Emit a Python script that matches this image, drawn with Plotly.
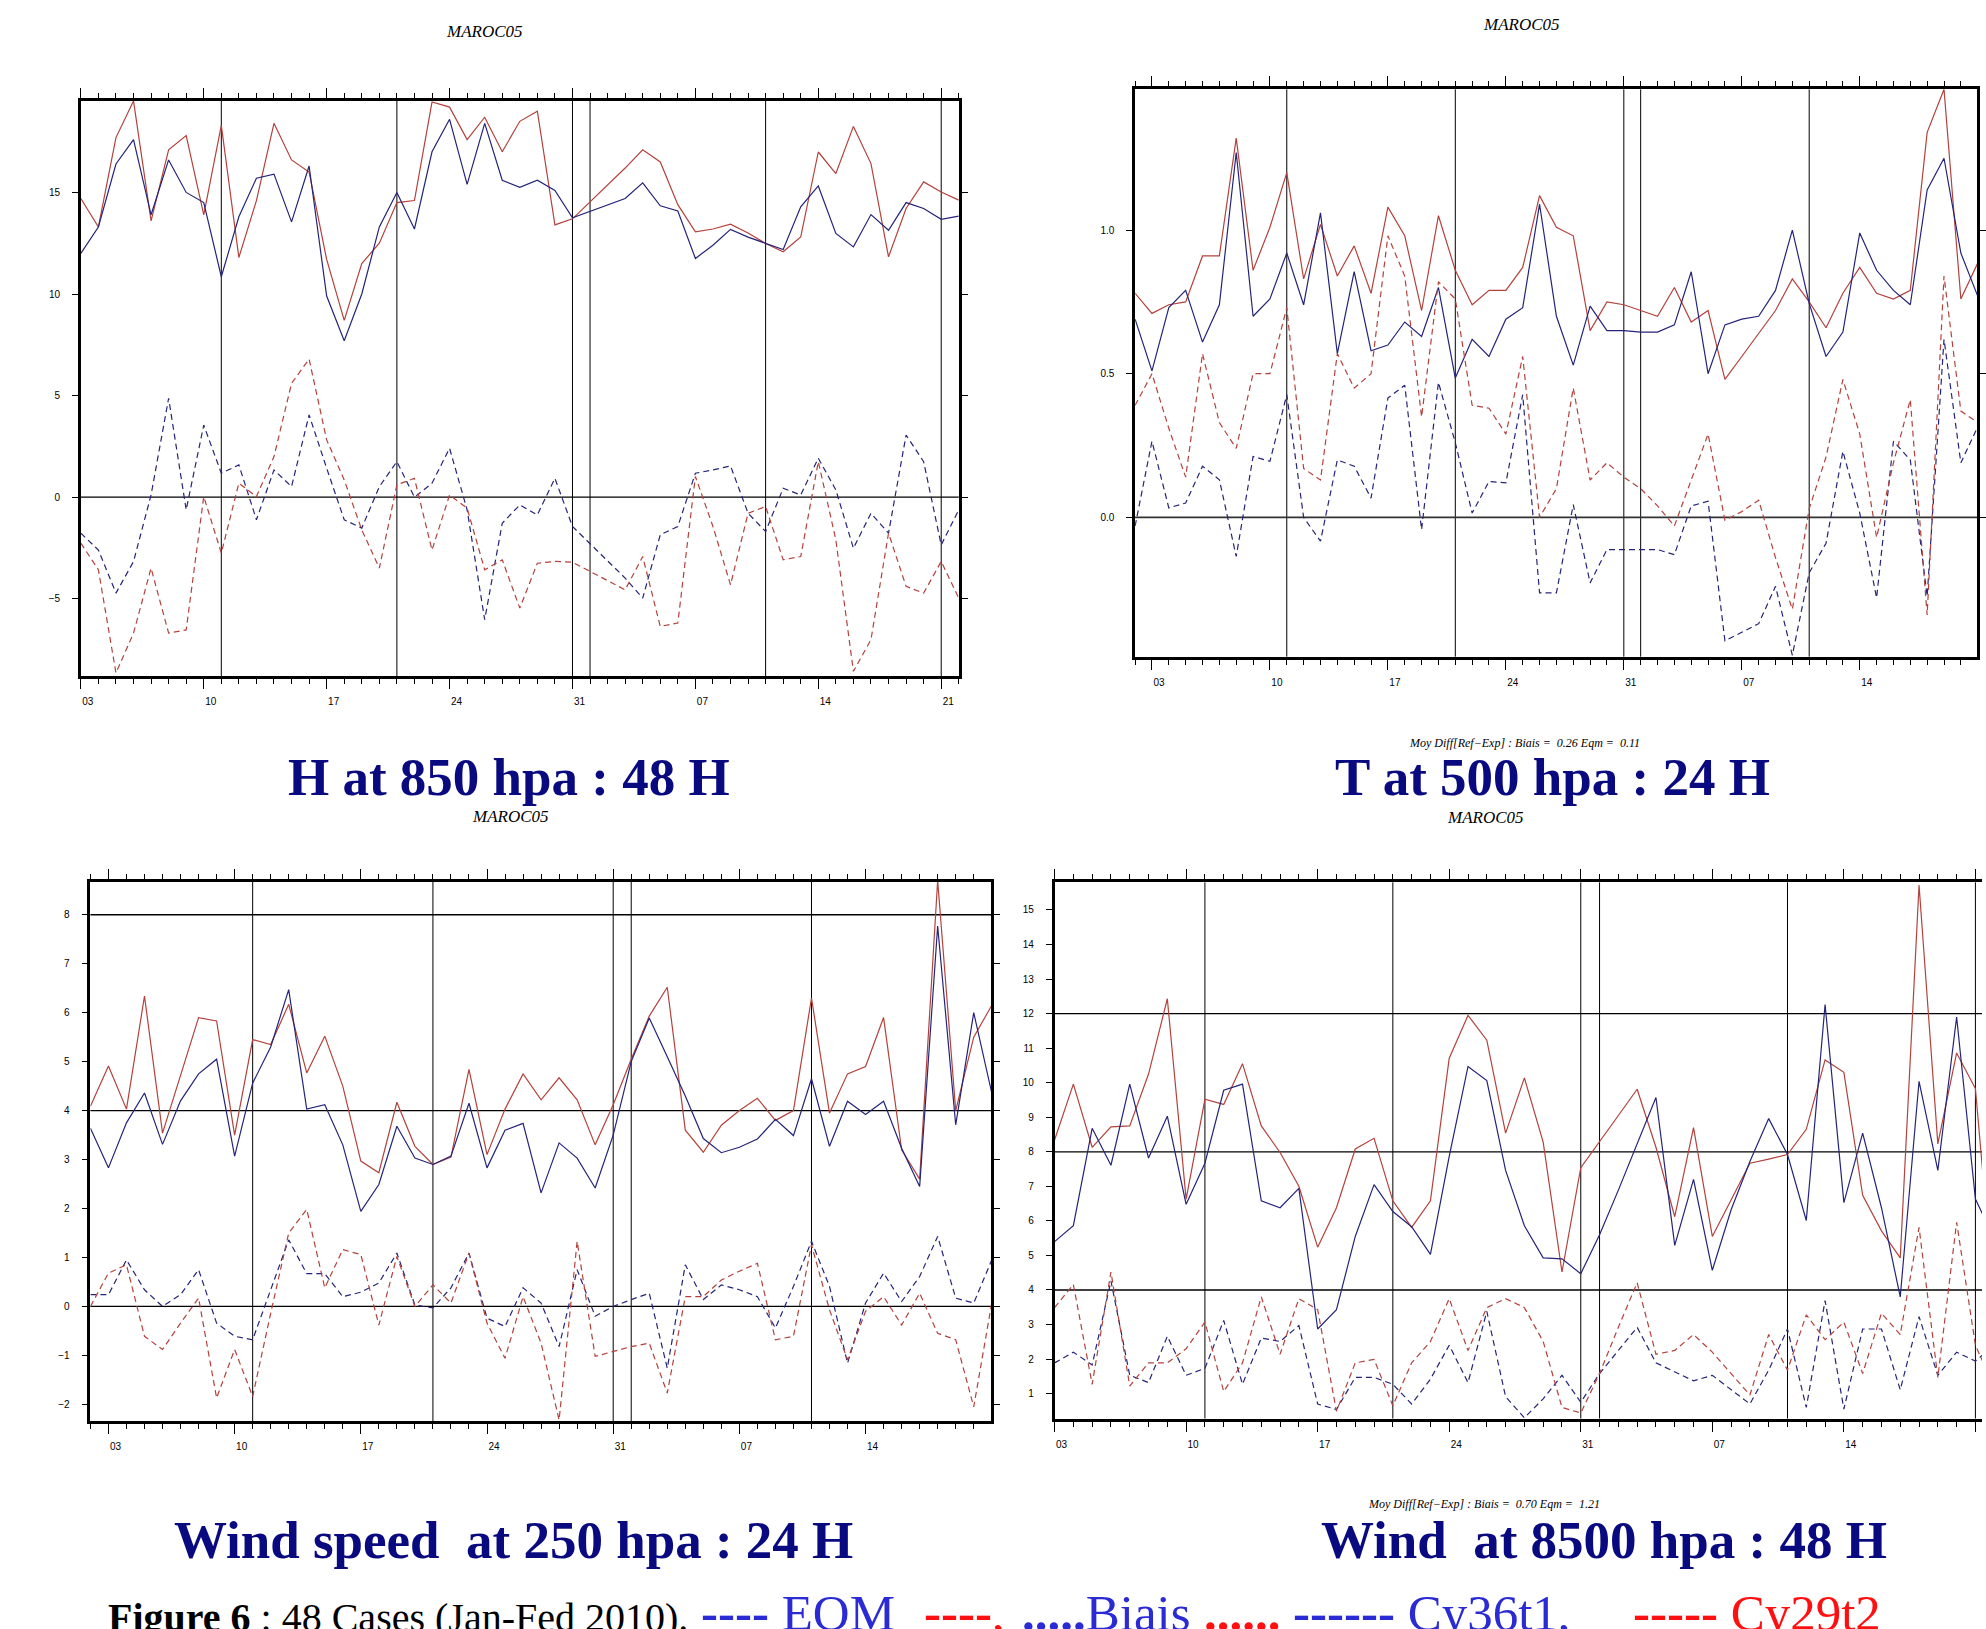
import plotly.graph_objects as go
import pandas as pd

RED = "#b3423c"
BLUE = "#24247a"

# ---------------- Panel 1 : H at 850 hPa, 48 H ----------------
p1_dates = list(pd.date_range("2010-01-03", "2010-01-31")) + list(pd.date_range("2010-02-03", "2010-02-22"))
p1_eqm_cy29 = [14.7, 13.3, 17.7, 19.5, 13.6, 17.1, 17.8, 13.9, 18.3, 11.8, 14.6, 18.4, 16.6, 16.0, 11.7, 8.7,
               11.5, 12.5, 14.5, 14.6, 19.45, 19.2, 17.6, 18.7, 17.0, 18.5, 19.0, 13.4, 13.7,
               16.2, 17.1, 16.5, 14.4, 13.06, 13.2, 13.44, 13.0, 12.49, 12.08, 12.81, 16.99, 15.93, 18.25,
               16.42, 11.83, 14.21, 15.52, 15.02, 14.62]
p1_eqm_cy36 = [12.0, 13.3, 16.4, 17.6, 13.9, 16.6, 15.0, 14.5, 10.85, 13.8, 15.7, 15.9, 13.55, 16.3, 9.9, 7.7,
               10.0, 13.3, 15.0, 13.2, 17.0, 18.6, 15.4, 18.4, 15.6, 15.25, 15.6, 15.1, 13.75,
               14.7, 15.47, 14.34, 14.09, 11.75, 12.4, 13.18, 12.8, 12.49, 12.19, 14.29, 15.32, 12.98, 12.32,
               13.91, 13.14, 14.5, 14.21, 13.68, 13.83]
p1_bias_cy36 = [-1.77, -2.6, -4.72, -3.17, 0.11, 4.87, -0.62, 3.55, 1.18, 1.59, -1.11, 1.34, 0.52, 4.05, 1.43,
                -1.11, -1.52, 0.52, 1.75, 0.0, 0.69, 2.41, -0.62, -6.03, -1.28, -0.38, -0.87, 0.93, -1.44,
                -3.98, -4.97, -1.85, -1.44, 1.18, 1.34, 1.54, -0.79, -1.69, 0.44, 0.11, 1.92, 0.36, -2.51,
                -0.79, -1.77, 3.06, 1.75, -2.35, -0.62]
p1_bias_cy29 = [-2.26, -3.57, -8.65, -6.69, -3.49, -6.69, -6.53, 0.03, -2.75, 0.69, 0.03, 2.0, 5.6, 6.8, 2.82,
                0.85, -1.61, -3.49, 0.61, 0.93, -2.6, 0.11, -0.54, -3.57, -3.08, -5.46, -3.25, -3.16, -3.2,
                -4.56, -2.92, -6.36, -6.19, 1.02, -1.44, -4.31, -0.79, -0.46, -3.08, -2.92, 1.75, -2.1, -8.57,
                -7.01, -1.77, -4.39, -4.72, -3.16, -4.97]

# ---------------- Panel 2 : T at 500 hPa, 24 H ----------------
p2_dates = list(pd.date_range("2010-01-02", "2010-02-21"))
p2_eqm_cy29 = [0.78, 0.71, 0.74, 0.75, 0.91, 0.91, 1.32, 0.86, 1.01, 1.20, 0.83, 1.02, 0.84, 0.945, 0.78, 1.08,
               0.98, 0.72, 1.05, 0.86, 0.74, 0.79, 0.79, 0.87, 1.12, 1.01, 0.98, 0.65, 0.75, 0.74,
               0.72, 0.70, 0.80, 0.68, 0.72, 0.48, 0.56, 0.64, 0.72, 0.83, 0.75, 0.66, 0.78, 0.87, 0.78,
               0.76, 0.79, 1.34, 1.49, 0.76, 0.885]
p2_eqm_cy36 = [0.69, 0.51, 0.73, 0.79, 0.61, 0.74, 1.27, 0.70, 0.76, 0.92, 0.74, 1.06, 0.57, 0.855, 0.58, 0.60,
               0.68, 0.63, 0.80, 0.485, 0.62, 0.56, 0.69, 0.73, 1.09, 0.70, 0.53, 0.735, 0.65, 0.65,
               0.645, 0.645, 0.67, 0.855, 0.50, 0.67, 0.69, 0.70, 0.79, 1.0, 0.745, 0.56, 0.645, 0.99, 0.86,
               0.79, 0.74, 1.14, 1.25, 0.92, 0.77]
p2_bias_cy29 = [0.39, 0.50, 0.31, 0.14, 0.57, 0.33, 0.24, 0.50, 0.50, 0.73, 0.17, 0.13, 0.57, 0.45, 0.50, 0.98,
                0.84, 0.35, 0.82, 0.76, 0.39, 0.38, 0.29, 0.56, 0.0, 0.10, 0.45, 0.13, 0.19, 0.14,
                0.10, 0.04, -0.03, 0.13, 0.29, -0.01, 0.02, 0.06, -0.14, -0.32, 0.03, 0.21, 0.48, 0.29, -0.07,
                0.19, 0.41, -0.34, 0.84, 0.37, 0.33]
p2_bias_cy36 = [-0.03, 0.265, 0.033, 0.05, 0.178, 0.131, -0.136, 0.212, 0.195, 0.427, 0.0, -0.083, 0.2, 0.178,
                0.067, 0.415, 0.46, -0.043, 0.47, 0.26, 0.015, 0.125, 0.12, 0.427, -0.263, -0.263, 0.044,
                -0.228, -0.112, -0.112,
                -0.112, -0.112, -0.13, 0.04, 0.056, -0.43, -0.40, -0.37, -0.24, -0.48, -0.193, -0.09, 0.23,
                0.015, -0.28, 0.265, 0.2, -0.275, 0.62, 0.19, 0.315]

# ---------------- Panel 3 : Wind speed at 250 hPa, 24 H ----------------
p3_dates = list(pd.date_range("2010-01-02", "2010-02-21"))
p3_eqm_cy29 = [4.09, 4.91, 4.03, 6.34, 3.54, 4.7, 5.9, 5.83, 3.5, 5.45, 5.35, 6.17, 4.77, 5.52, 4.5, 2.97,
               2.73, 4.17, 3.27, 2.9, 3.05, 4.84, 3.1, 4.03, 4.75, 4.22, 4.67, 4.22, 3.3, 4.12, 5.05, 5.93,
               6.52, 3.6, 3.15, 3.7, 4.0, 4.25, 3.8, 4.0, 6.3, 3.95, 4.75, 4.9, 5.9, 3.2, 2.6, 8.7, 4.0, 5.5,
               6.15]
p3_eqm_cy36 = [3.64, 2.83, 3.75, 4.36, 3.31, 4.2, 4.75, 5.05, 3.07, 4.56, 5.3, 6.47, 4.03, 4.12, 3.3, 1.94,
               2.49, 3.68, 3.03, 2.9, 3.07, 4.15, 2.83, 3.6, 3.74, 2.32, 3.34, 3.03, 2.42, 3.5, 5.0, 5.89,
               5.1, 4.3, 3.43, 3.14, 3.25, 3.42, 3.82, 3.49, 4.65, 3.27, 4.19, 3.92, 4.19, 3.23, 2.45, 7.77,
               3.71, 6.0, 4.36]
p3_bias_cy36 = [0.24, 0.24, 0.95, 0.34, 0.0, 0.24, 0.75, -0.34, -0.61, -0.68, 0.34, 1.36, 0.67, 0.67, 0.2,
                0.29, 0.48, 1.09, 0.03, -0.03, 0.38, 1.09, -0.24, -0.41, 0.38, 0.07, -0.82, 0.75, -0.2, 0.0,
                0.14, 0.27, -1.26, 0.85, 0.14, 0.44, 0.34, 0.2, -0.44, 0.41, 1.33, 0.41, -1.16, 0.07, 0.68,
                0.1, 0.61, 1.43, 0.17, 0.07, 0.95]
p3_bias_cy29 = [0.0, 0.68, 0.85, -0.61, -0.88, -0.34, 0.17, -1.87, -0.88, -1.84, -0.14, 1.5, 1.98, 0.38, 1.16,
                1.06, -0.38, 1.02, 0.0, 0.44, 0.07, 1.09, -0.34, -1.06, 0.2, -0.75, -2.32, 1.33, -1.02, -0.92,
                -0.82, -0.75, -1.77, 0.2, 0.2, 0.54, 0.72, 0.88, -0.68, -0.61, 1.26, -0.07, -1.09, -0.1, 0.2,
                -0.38, 0.27, -0.55, -0.68, -2.05, 0.07]

# ---------------- Panel 4 : Wind at 850 hPa, 48 H ----------------
p4_dates = list(pd.date_range("2010-01-03", "2010-02-22"))
p4_eqm_cy29 = [8.34, 9.96, 8.13, 8.72, 8.75, 10.25, 12.43, 6.63, 9.52, 9.37, 10.55, 8.75, 7.98, 7.0, 5.24,
               6.38, 8.08, 8.39, 6.58, 5.81, 6.58, 10.71, 11.95, 11.23, 8.54, 10.14, 8.28, 4.52, 7.54, 8.28,
               9.05, 9.81, 8.13, 6.12, 8.70, 5.55, 6.63, 7.67, 7.79, 7.92, 8.65, 10.66, 10.3, 6.74, 5.71,
               4.93, 15.72, 8.23, 10.86, 9.83, 3.6]
p4_eqm_cy36 = [5.40, 5.86, 8.68, 7.61, 9.96, 7.82, 9.03, 6.48, 7.67, 9.78, 9.96, 6.58, 6.38, 6.94, 2.87,
               3.43, 5.55, 7.05, 6.27, 5.83, 5.03, 7.87, 10.47, 10.06, 7.46, 5.86, 4.93, 4.90, 4.47, 5.6,
               6.89, 8.23, 9.57, 5.29, 7.2, 4.57, 6.32, 7.72, 8.96, 7.92, 6.01, 12.26, 6.53, 8.54, 6.38,
               3.80, 10.04, 7.46, 11.9, 6.63, 5.5]
p4_bias_cy29 = [3.49, 4.16, 1.27, 4.52, 1.22, 1.89, 1.89, 2.30, 3.07, 1.06, 1.89, 3.80, 2.14, 3.75, 3.43,
                0.49, 1.89, 1.99, 0.65, 1.89, 2.51, 3.75, 2.25, 3.49, 3.75, 3.49, 2.51, 0.60, 0.44, 1.58,
                2.92, 4.21, 2.14, 2.25, 2.71, 2.20, 1.58, 0.96, 2.71, 1.68, 3.28, 2.56, 3.07, 1.58, 3.33,
                2.71, 5.81, 1.47, 5.96, 2.40, 1.2]
p4_bias_cy36 = [1.89, 2.20, 1.83, 4.26, 1.53, 1.32, 2.66, 1.53, 1.73, 3.12, 1.27, 2.61, 2.51, 2.97, 0.70,
                0.54, 1.47, 1.47, 1.27, 0.70, 1.42, 2.40, 1.32, 3.38, 0.91, 0.3, 0.85, 1.53, 0.75, 1.58,
                2.25, 2.92, 1.89, 1.63, 1.37, 1.53, 1.11, 0.70, 1.68, 2.87, 0.6, 3.69, 0.55, 2.87, 2.87,
                1.11, 3.23, 1.53, 2.2, 1.94, 2.4]

# Dekad separator dates and horizontal reference levels
dekad_lines = ["2010-01-11", "2010-01-21", "2010-01-31", "2010-02-01", "2010-02-11", "2010-02-21"]
p1_hlines = [0]
p2_hlines = [0]
p3_hlines = [0, 4, 8]
p4_hlines = [4, 8, 12]

titles = ["H at 850 hpa : 48 H", "T at 500 hpa : 24 H", "Wind speed&nbsp;&nbsp;at 250 hpa : 24 H",
          "Wind&nbsp;&nbsp;at 8500 hpa : 48 H"]

W, H = 1986, 1629


def fx(px):
    return px / W


def fy(py):
    return 1 - py / H


panels = [
    dict(dates=p1_dates, series=[p1_eqm_cy29, p1_eqm_cy36, p1_bias_cy36, p1_bias_cy29],
         xdom=[fx(81), fx(960.7)], ydom=[fy(676), fy(101)],
         xr=["2010-01-03", "2010-02-22"], yr=[-8.8, 19.5], dtick=5, fmt="d", hl=p1_hlines,
         vl=dekad_lines, mirror_y="allticks"),
    dict(dates=p2_dates, series=[p2_eqm_cy29, p2_eqm_cy36, p2_bias_cy36, p2_bias_cy29],
         xdom=[fx(1137.4), fx(1981)], ydom=[fy(656.7), fy(89.3)],
         xr=["2010-01-02", "2010-02-20 23:00"], yr=[-0.485, 1.49], dtick=0.5, fmt=".1f", hl=p2_hlines,
         vl=dekad_lines[:-1], mirror_y="allticks"),
    dict(dates=p3_dates, series=[p3_eqm_cy29, p3_eqm_cy36, p3_bias_cy36, p3_bias_cy29],
         xdom=[fx(90.6), fx(993)], ydom=[fy(1421), fy(881.7)],
         xr=["2010-01-02", "2010-02-20 23:00"], yr=[-2.34, 8.675], dtick=1, fmt="d", hl=p3_hlines,
         vl=dekad_lines[:-1], mirror_y="allticks"),
    dict(dates=p4_dates, series=[p4_eqm_cy29, p4_eqm_cy36, p4_bias_cy36, p4_bias_cy29],
         xdom=[fx(1056.7), 1.0], ydom=[fy(1418.5), fy(882.3)],
         xr=["2010-01-03", "2010-02-21 08:24"], yr=[0.28, 15.8], dtick=1, fmt="d", hl=p4_hlines,
         vl=dekad_lines, mirror_y=False),
]

styles = [(RED, "solid"), (BLUE, "solid"), (BLUE, "6px,4px"), (RED, "6px,4px")]

TICKFONT = dict(family="Liberation Sans Narrow, Liberation Sans, Arial", size=10, color="black")

fig = go.Figure()
shapes = []
layout = {}
for i, p in enumerate(panels, start=1):
    xa = "x" if i == 1 else f"x{i}"
    ya = "y" if i == 1 else f"y{i}"
    for vals, (col, dash) in zip(p["series"], styles):
        fig.add_trace(go.Scatter(x=p["dates"], y=vals, mode="lines", xaxis=xa, yaxis=ya,
                                 line=dict(color=col, width=1.2, dash=dash), showlegend=False,
                                 hoverinfo="skip"))
    xkey = "xaxis" if i == 1 else f"xaxis{i}"
    ykey = "yaxis" if i == 1 else f"yaxis{i}"
    layout[xkey] = dict(domain=p["xdom"], range=p["xr"], anchor=ya, type="date",
                        tick0="2010-01-03", dtick=7 * 86400000, tickformat="%d",
                        ticks="outside", ticklen=10, tickwidth=1.2, tickcolor="black",
                        showline=True, linewidth=3, linecolor="black", mirror="allticks",
                        showgrid=False, zeroline=False, tickfont=TICKFONT,
                        ticklabelshift=7, ticklabelstandoff=4,
                        minor=dict(dtick=86400000, tick0="2010-01-03", ticks="outside", ticklen=5,
                                   tickwidth=1, tickcolor="black", showgrid=False))
    layout[ykey] = dict(domain=p["ydom"], range=p["yr"], anchor=xa, dtick=p["dtick"], tick0=0,
                        tickformat=p["fmt"], ticks="outside", ticklen=6, tickwidth=1.2,
                        tickcolor="black", showline=True, linewidth=2.5, linecolor="black",
                        mirror=p["mirror_y"], showgrid=False, zeroline=False, tickfont=TICKFONT,
                        ticklabelstandoff=10)
    for d in p["vl"]:
        shapes.append(dict(type="line", xref=xa, yref=f"{ya} domain", x0=d, x1=d, y0=0, y1=1,
                           line=dict(color="black", width=1), layer="below"))
    for h in p["hl"]:
        shapes.append(dict(type="line", xref=f"{xa} domain", yref=ya, x0=0, x1=1, y0=h, y1=h,
                           line=dict(color="#333333" if i == 2 else "black", width=1.6 if i == 2 else 1.3),
                           layer="below"))

SERIF = "Liberation Serif, Times New Roman, serif"
NAVY = "#0a0a80"
ann = []


def A(text, x, y, size, color="black", xanchor="center", yanchor="middle", family=SERIF):
    ann.append(dict(text=text, x=fx(x), y=fy(y), xref="paper", yref="paper", showarrow=False,
                    xanchor=xanchor, yanchor=yanchor, font=dict(family=family, size=size, color=color)))


# small "MAROC05" headers
for (x, y) in [(485, 32), (1525, 25), (512, 816), (1488, 817)]:
    A("<i>MAROC05</i>", x, y, 17)

# bias / rms notes
A("<i>Moy Diff[Ref−Exp] : Biais =  0.26 Eqm =  0.11</i>", 1528, 743, 12)
A("<i>Moy Diff[Ref−Exp] : Biais =  0.70 Eqm =  1.21</i>", 1487, 1504, 12)

# panel subtitles
for t, (x, y) in zip(titles, [(510, 777), (1556, 777), (515, 1540), (1607, 1540)]):
    A(f"<b>{t}</b>", x, y, 53, NAVY)

# figure caption (legend)
CAP_BLUE = "#2b2bd6"
CAP_RED = "#ff1010"
A("<b>Figure 6</b> : 48 Cases (Jan-Fed 2010).", 106, 1617, 40, "black", xanchor="left")
A("<b>----</b> EQM", 700, 1613, 51, CAP_BLUE, xanchor="left")
A("<b>----</b>,", 924, 1613, 51, CAP_RED, xanchor="left")
A("<b>.....</b>Biais", 1022, 1613, 51, CAP_BLUE, xanchor="left")
A("<b>......</b>", 1204, 1613, 51, CAP_RED, xanchor="left")
A("<b>------</b> Cy36t1,", 1294, 1613, 51, CAP_BLUE, xanchor="left")
A("<b>-----</b> Cy29t2", 1634, 1613, 51, CAP_RED, xanchor="left")

fig.update_layout(width=W, height=H, margin=dict(l=0, r=0, t=0, b=0),
                  paper_bgcolor="white", plot_bgcolor="white", showlegend=False,
                  shapes=shapes, annotations=ann, **layout)

fig.write_html("out.html", config={"displayModeBar": False},
               post_script="document.body.style.margin='0';document.body.style.overflow='hidden';")
